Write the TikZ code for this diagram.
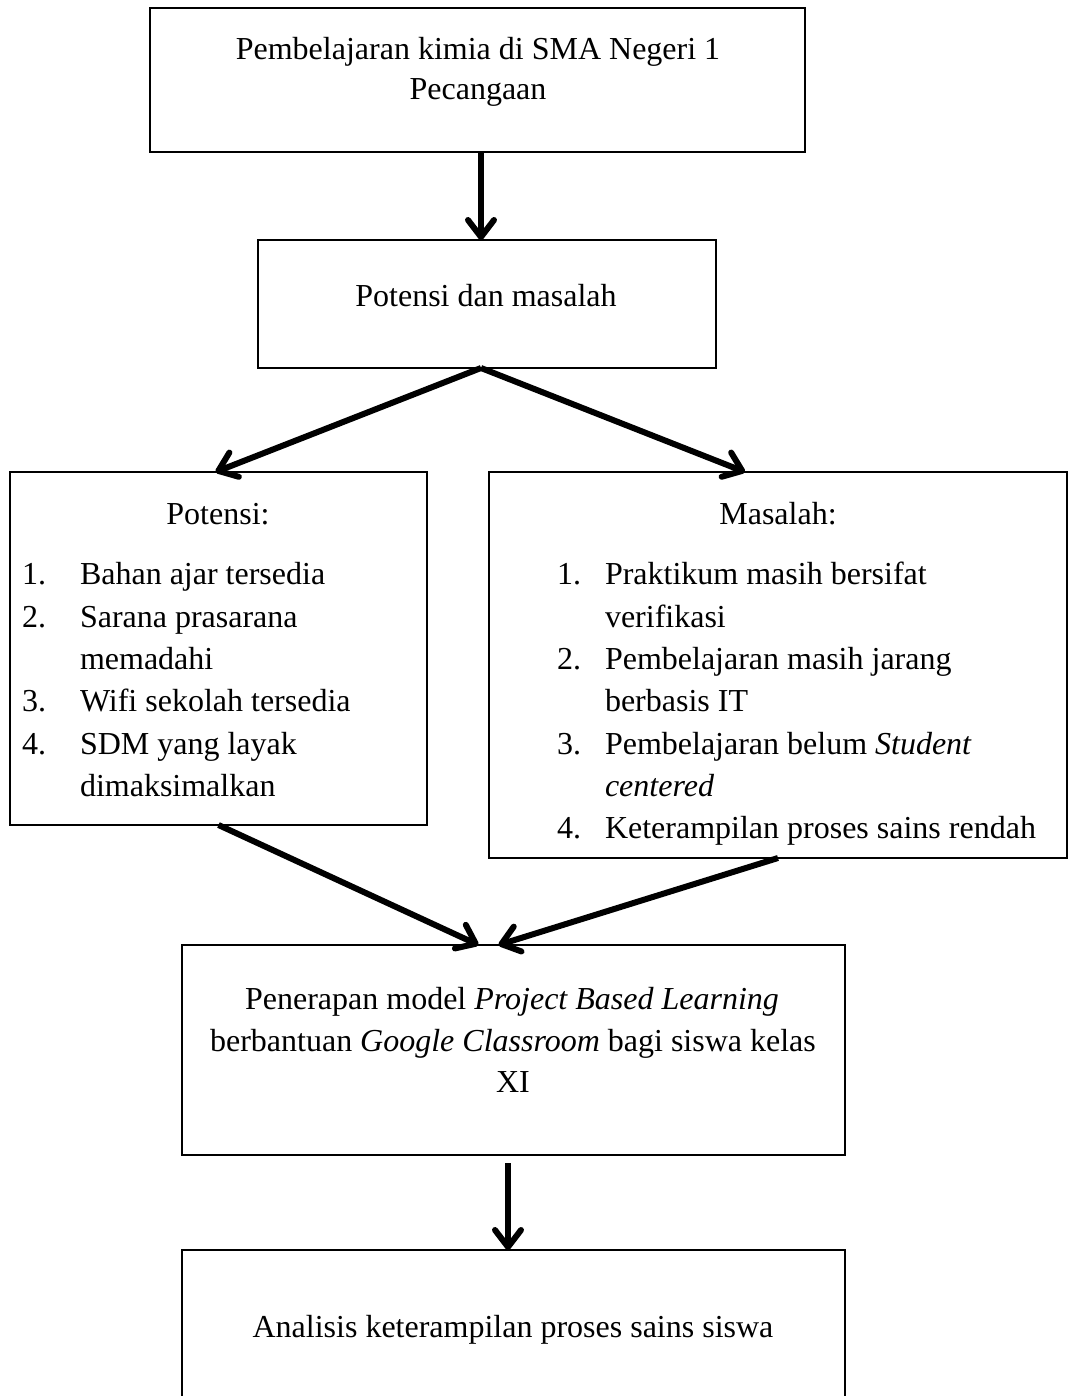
\documentclass[tikz,border=0pt]{standalone}
\usepackage{fontspec}
\setmainfont{Liberation Serif}
\usetikzlibrary{arrows.meta}
\begin{document}
\begin{tikzpicture}[x=1pt,y=-1pt,
  box/.style={draw, line width=2pt, inner sep=0pt, outer sep=0pt},
  txt/.style={inner sep=0pt, outer sep=0pt, font=\fontsize{32}{42}\selectfont},
  arr/.style={line width=6pt, -{Straight Barb[length=17pt,width=26pt,line width=6pt,round]}}]
\useasboundingbox (0,0) rectangle (1069,1396);
\clip (0,0) rectangle (1069,1396);
\fill[white] (0,0) rectangle (1069,1396);
% boxes
\node[box, minimum width=655pt, minimum height=144pt] (b1) at (477.5,80) {};
\node[box, minimum width=458pt, minimum height=128pt] (b2) at (487,304) {};
\node[box, minimum width=417pt, minimum height=353pt] (pot) at (218.5,648.5) {};
\node[box, minimum width=578pt, minimum height=386pt] (mas) at (778,665) {};
\node[box, minimum width=663pt, minimum height=210pt] (b5) at (513.5,1050) {};
\node[box, minimum width=663pt, minimum height=180pt] (b6) at (513.5,1340) {};
% texts
\node[txt, anchor=base] (t1a) at (478,60) {Pembelajaran kimia di SMA Negeri 1};
\node[txt, anchor=base] (t1b) at (478,100) {Pecangaan};
\node[txt, anchor=base] (t2) at (486,307) {Potensi dan masalah};
\node[txt, anchor=base] (tp) at (218,524) {Potensi:};
\node[txt, anchor=base west] (p1n) at (22,584) {1.};
\node[txt, anchor=base west] (p1) at (80,584) {Bahan ajar tersedia};
\node[txt, anchor=base west] (p2n) at (22,627) {2.};
\node[txt, anchor=base west] (p2) at (80,627) {Sarana prasarana};
\node[txt, anchor=base west] (p2b) at (80,669) {memadahi};
\node[txt, anchor=base west] (p3n) at (22,711) {3.};
\node[txt, anchor=base west] (p3) at (80,711) {Wifi sekolah tersedia};
\node[txt, anchor=base west] (p4n) at (22,754) {4.};
\node[txt, anchor=base west] (p4) at (80,754) {SDM yang layak};
\node[txt, anchor=base west] (p4b) at (80,796) {dimaksimalkan};
\node[txt, anchor=base] (tm) at (778,524) {Masalah:};
\node[txt, anchor=base west] (m1n) at (557,584) {1.};
\node[txt, anchor=base west] (m1) at (605,584) {Praktikum masih bersifat};
\node[txt, anchor=base west] (m1b) at (605,627) {verifikasi};
\node[txt, anchor=base west] (m2n) at (557,669) {2.};
\node[txt, anchor=base west] (m2) at (605,669) {Pembelajaran masih jarang};
\node[txt, anchor=base west] (m2b) at (605,711) {berbasis IT};
\node[txt, anchor=base west] (m3n) at (557,754) {3.};
\node[txt, anchor=base west] (m3) at (605,754) {Pembelajaran belum \textit{Student}};
\node[txt, anchor=base west] (m3b) at (605,796) {\textit{centered}};
\node[txt, anchor=base west] (m4n) at (557,838) {4.};
\node[txt, anchor=base west] (m4) at (605,838) {Keterampilan proses sains rendah};
\node[txt, anchor=base] (t5a) at (512,1009) {Penerapan model \textit{Project Based Learning}};
\node[txt, anchor=base] (t5b) at (513,1051) {berbantuan \textit{Google Classroom} bagi siswa kelas};
\node[txt, anchor=base] (t5c) at (513,1092) {XI};
\node[txt, anchor=base] (t6) at (513,1337) {Analisis keterampilan proses sains siswa};
% arrows
\draw[arr] ([xshift=3.5pt]b1.south) -- ([xshift=-6pt]b2.north);
\draw[arr] ([xshift=-6pt]b2.south) -- ([xshift=-3pt]pot.north);
\draw[arr] ([xshift=-6pt]b2.south) -- ([xshift=-33pt]mas.north);
\draw[arr] (pot.south) -- ([xshift=-35pt]b5.north);
\draw[arr] (mas.south) -- ([xshift=-15pt]b5.north);
\draw[arr] ([xshift=-5.5pt,yshift=-8pt]b5.south) -- ([xshift=-5.5pt]b6.north);
\end{tikzpicture}
\end{document}
